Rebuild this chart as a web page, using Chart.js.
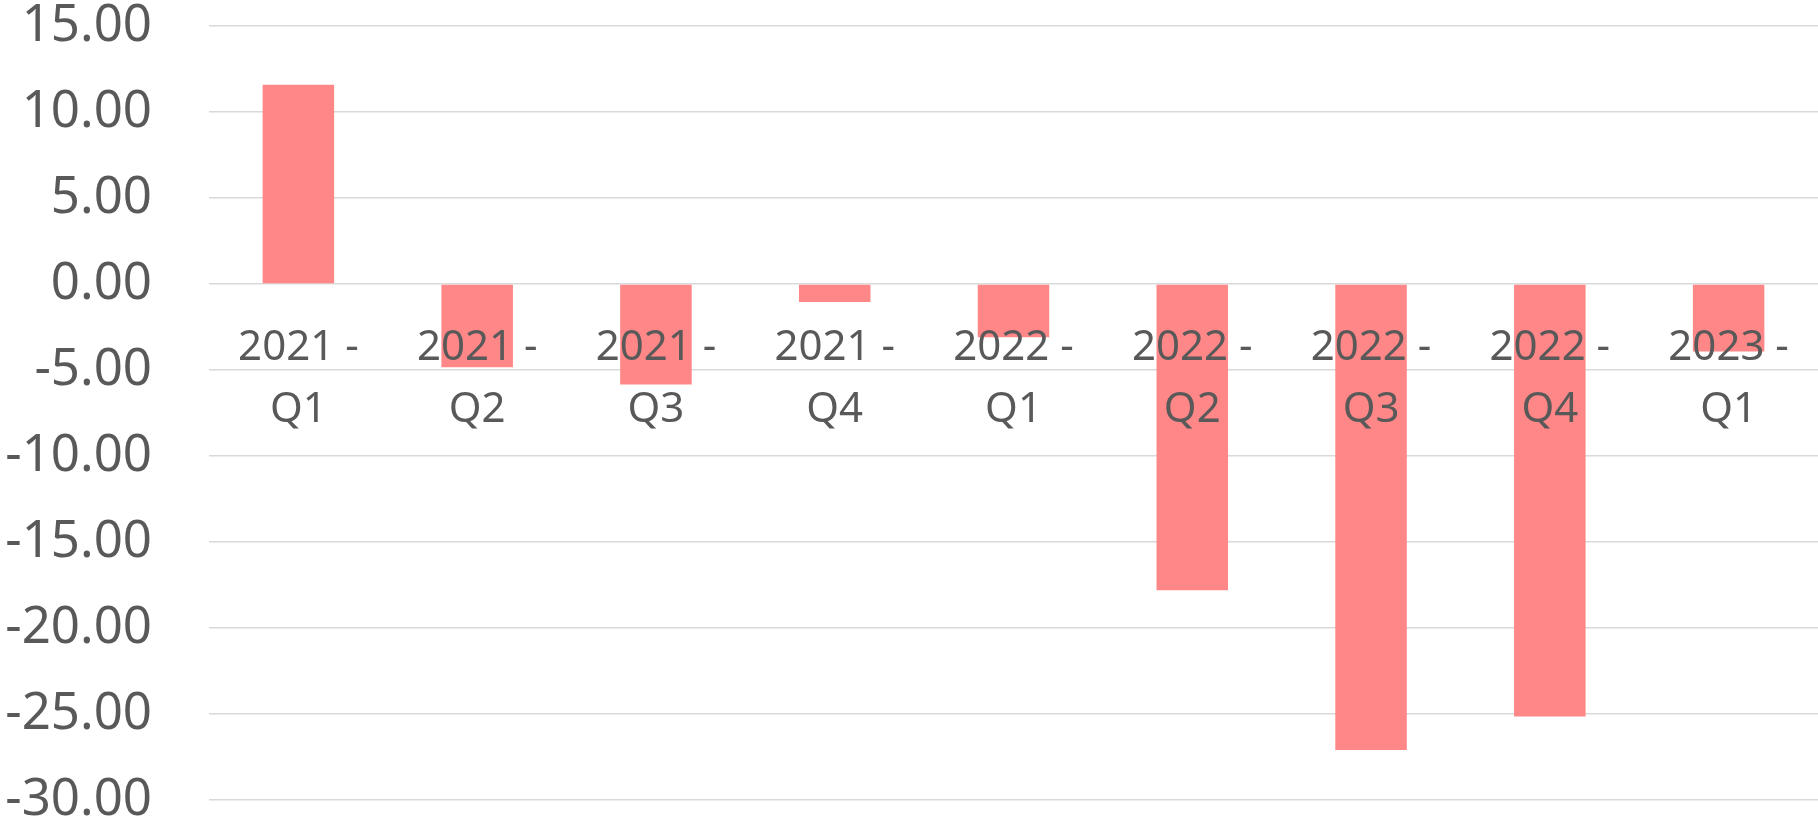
<!DOCTYPE html>
<html lang="en">
<head>
    <meta charset="UTF-8">
    <title>Quarterly values</title>
    <script src="https://cdn.jsdelivr.net/npm/chart.js"></script>
    <style>
        html, body { margin: 0; padding: 0; background: #fff; }
        #wrap { width: 1818px; height: 822px; }
    </style>
</head>
<body>
    <div id="wrap"><canvas id="qChart"></canvas></div>

    <script>
        // data
        const quarters = [
            ['2021 -', 'Q1'], ['2021 -', 'Q2'], ['2021 -', 'Q3'], ['2021 -', 'Q4'],
            ['2022 -', 'Q1'], ['2022 -', 'Q2'], ['2022 -', 'Q3'], ['2022 -', 'Q4'],
            ['2023 -', 'Q1']
        ];
        const values = [11.59, -4.84, -5.85, -1.05, -3.10, -17.80, -27.10, -25.15, -3.92];
        const yMin = -30;
        const yMax = 15;
        const yStep = 5;

        const textColor = '#595959';
        const fontFamily = '"Noto Sans", "Open Sans", sans-serif';

        new Chart(document.getElementById('qChart'), {
            type: 'bar',
            data: {
                labels: quarters,
                datasets: [{
                    data: values,
                    backgroundColor: '#FF8787',
                    borderWidth: 0,
                    categoryPercentage: 1,
                    barPercentage: 0.4
                }]
            },
            options: {
                responsive: true,
                maintainAspectRatio: false,
                animation: false,
                layout: { padding: { top: 26, right: 0, bottom: 22, left: 0 } },
                plugins: {
                    legend: { display: false },
                    tooltip: { enabled: false }
                },
                scales: {
                    x: {
                        // labels sit just under the zero line, over the bars
                        position: { y: 0 },
                        afterFit: scale => {
                            scale.height = 0;
                            scale.paddingLeft = 0;
                            scale.paddingRight = 0;
                        },
                        grid: { display: false, drawTicks: false },
                        border: { display: false },
                        ticks: {
                            z: 1,
                            color: textColor,
                            padding: 33,
                            maxRotation: 0,
                            autoSkip: false,
                            font: { family: fontFamily, size: 42, lineHeight: 1.48 }
                        }
                    },
                    y: {
                        min: yMin,
                        max: yMax,
                        afterFit: scale => {
                            scale.width = 209;
                            scale.paddingTop = 0;
                            scale.paddingBottom = 0;
                        },
                        grid: { color: '#D9D9D9', lineWidth: 1.5, drawTicks: false },
                        border: { display: false },
                        ticks: {
                            stepSize: yStep,
                            color: textColor,
                            padding: 57,
                            font: { family: fontFamily, size: 51 },
                            callback: v => v.toFixed(2)
                        }
                    }
                }
            }
        });
    </script>
</body>
</html>
